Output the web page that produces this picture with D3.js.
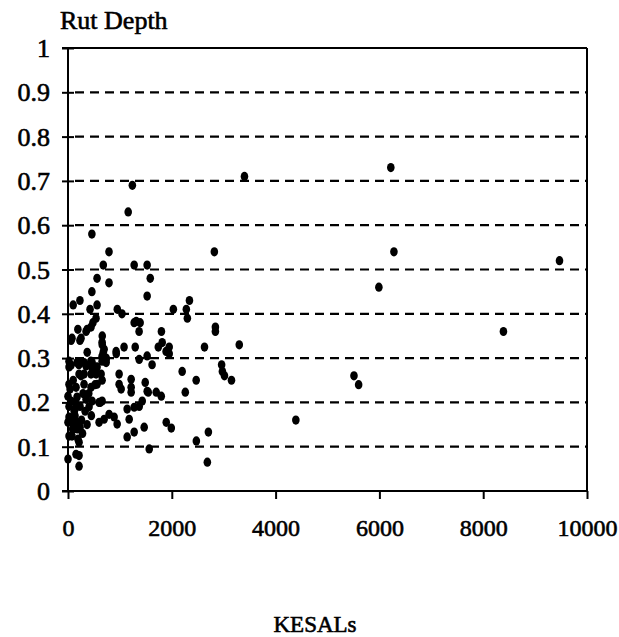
<!DOCTYPE html>
<html><head><meta charset="utf-8">
<script src="https://cdn.jsdelivr.net/npm/d3@7/dist/d3.min.js"></script>
<style>body{margin:0;background:#fff}svg{display:block}</style>
</head><body>
<script>
const xTicks = [0, 2000, 4000, 6000, 8000, 10000];
const yTicks = [0, 0.1, 0.2, 0.3, 0.4, 0.5, 0.6, 0.7, 0.8, 0.9, 1];
const yTickLabels = ["0", "0.1", "0.2", "0.3", "0.4", "0.5", "0.6", "0.7", "0.8", "0.9", "1"];
const xTitle = "KESALs";
const yTitle = "Rut Depth";

const kesals = [
 3400,1240,1160,6220,6280,5990,9470,8390,5510,5600,4390,3300,
 460,790,2820,680,1275,1525,1585,560,790,460,1525,
 100,230,560,425,950,1040,2340,2280,2300,2030,
 540,480,370,190,60,230,1275,1390,1370,1800,660,1815,1740,1950,1950,1890,
 1080,1295,930,660,680,370,735,735,
 2840,2840,2630,1525,1620,2960,2975,3015,3150,2200,2470,2260,
 20,210,440,560,
 444,348,77,251,657,696,657,734,927,1314,58,213,348,464,541,
 19,174,309,464,657,213,309,444,541,638,
 19,155,309,444,560,657,
 985,985,1024,1217,1217,1217,1488,1526,1700,1372,
 0,58,174,348,464,599,657,
 20,135,232,406,
 20,77,135,0,77,155,232,367,
 599,696,792,889,947,
 1140,1179,1275,1372,1430,
 1140,1275,1468,1893,
 20,77,193,213,1565,
 0,155,213,213,
 1990,2473,2705,2685,1797,1546,
 100,290,120,400,260,520,40,330,180,620,280,140,450,90,250
];
const rutDepth = [
 0.71,0.69,0.63,0.73,0.54,0.46,0.52,0.36,0.26,0.24,0.16,0.33,
 0.58,0.54,0.54,0.51,0.51,0.51,0.48,0.48,0.47,0.45,0.44,
 0.42,0.43,0.42,0.41,0.41,0.40,0.43,0.41,0.39,0.41,
 0.39,0.38,0.365,0.365,0.34,0.34,0.38,0.38,0.36,0.36,0.35,0.335,0.325,0.325,0.31,0.315,
 0.325,0.325,0.31,0.33,0.313,0.313,0.30,0.29,
 0.37,0.36,0.325,0.305,0.285,0.285,0.27,0.26,0.25,0.27,0.25,0.223,
 0.28,0.285,0.293,0.28,
 0.37,0.36,0.345,0.345,0.336,0.32,0.304,0.297,0.315,0.383,0.284,0.29,0.282,0.279,0.279,
 0.293,0.29,0.29,0.29,0.293,0.264,0.264,0.264,0.264,0.264,
 0.241,0.234,0.241,0.234,0.241,0.25,
 0.264,0.241,0.23,0.252,0.234,0.223,0.245,0.225,0.223,0.297,
 0.214,0.203,0.212,0.207,0.203,0.20,0.203,
 0.191,0.185,0.191,0.19,
 0.167,0.162,0.17,0.155,0.155,0.155,0.144,0.15,
 0.155,0.162,0.173,0.167,0.151,
 0.185,0.162,0.189,0.191,0.203,
 0.122,0.133,0.144,0.155,
 0.124,0.124,0.117,0.11,0.095,
 0.072,0.083,0.08,0.056,
 0.142,0.113,0.133,0.065,0.214,0.223,
 0.25,0.22,0.18,0.22,0.16,0.24,0.23,0.18,0.14,0.2,0.13,0.2,0.17,0.14,0.26
];

const W = 619, H = 637;
const svg = d3.select("body").append("svg").attr("width", W).attr("height", H);
const x = d3.scaleLinear().domain([0, 10000]).range([68, 587]);
const y = d3.scaleLinear().domain([0, 1]).range([491, 48]);
const font = "'Liberation Serif','Times New Roman',serif";
const textStroke = sel => sel.attr("stroke", "#000").attr("stroke-width", 0.6);

// dashed gridlines
svg.append("g").selectAll("line").data(yTicks.filter(d => d > 0 && d < 1)).join("line")
  .attr("x1", 75).attr("x2", x(10000)).attr("y1", d => y(d)).attr("y2", d => y(d))
  .attr("stroke", "#000").attr("stroke-width", 2.2).attr("stroke-dasharray", "9,6");

// top and right border
svg.append("line").attr("x1", 62).attr("x2", x(10000)).attr("y1", y(1)).attr("y2", y(1))
  .attr("stroke", "#000").attr("stroke-width", 2);
svg.append("line").attr("x1", x(10000)).attr("x2", x(10000)).attr("y1", y(1)).attr("y2", y(0))
  .attr("stroke", "#000").attr("stroke-width", 2);

// y axis
const yAxis = d3.axisLeft(y).tickValues(yTicks).tickFormat((d, i) => yTickLabels[i]).tickSize(0).tickPadding(18);
const gy = svg.append("g").attr("transform", `translate(${x(0)},0)`).call(yAxis);
gy.select(".domain").attr("stroke-width", 2).attr("d", `M0,${y(1)}V${y(0)}`);
gy.selectAll(".tick line").attr("x1", -6).attr("x2", 6).attr("stroke-width", 2);
gy.selectAll("text").attr("font-family", font).attr("font-size", 26).attr("fill", "#000").attr("dy", "0.33em").call(textStroke);

// x axis
const xAxis = d3.axisBottom(x).tickValues(xTicks).tickFormat(d3.format("d")).tickSize(8).tickPadding(20);
const gx = svg.append("g").attr("transform", `translate(0,${y(0)})`).call(xAxis);
gx.select(".domain").attr("stroke-width", 2).attr("d", `M62,0H${x(10000)}`);
gx.selectAll(".tick line").attr("stroke-width", 2);
gx.selectAll("text").attr("font-family", font).attr("font-size", 24).attr("fill", "#000").call(textStroke);

// points
svg.append("g").selectAll("ellipse").data(kesals.map((k, i) => [k, rutDepth[i]])).join("ellipse")
  .attr("cx", d => x(d[0])).attr("cy", d => y(d[1])).attr("rx", 3.8).attr("ry", 4.6).attr("fill", "#000");

// titles
svg.append("text").attr("x", 60).attr("y", 29).attr("font-family", font).attr("font-size", 26).call(textStroke).text(yTitle);
svg.append("text").attr("x", 315).attr("y", 632).attr("text-anchor", "middle").attr("font-family", font).attr("font-size", 23).call(textStroke).text(xTitle);
</script>
</body></html>
